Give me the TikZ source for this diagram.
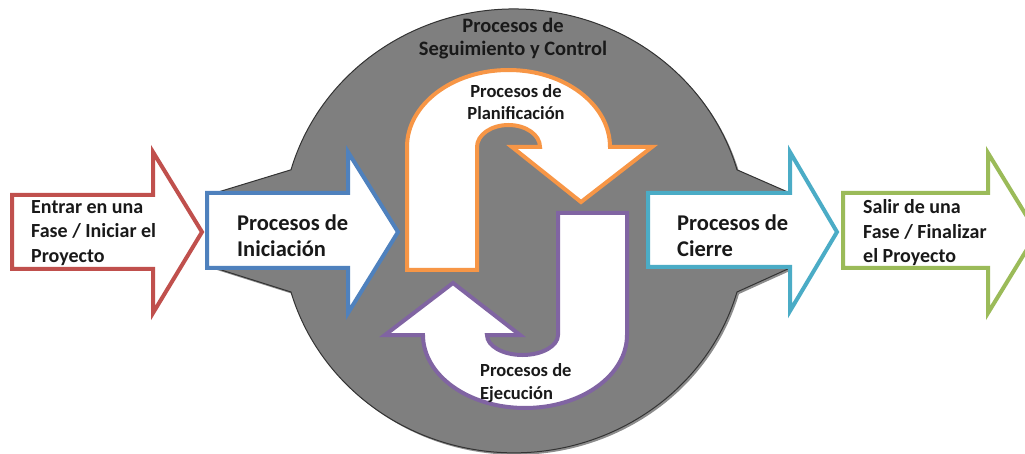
\documentclass[tikz,border=0pt]{standalone}
\usepackage{fontspec}
\setmainfont{Carlito}
\definecolor{rojo}{HTML}{C0504D}
\definecolor{azul}{HTML}{4F81BD}
\definecolor{naranja}{HTML}{F79646}
\definecolor{morado}{HTML}{8064A2}
\definecolor{celeste}{HTML}{4BACC6}
\definecolor{verde}{HTML}{9BBB59}
\definecolor{fondo}{HTML}{7F7F7F}
\tikzset{
  flecha/.style={fill=white, line width=4pt, line join=miter},
  txtgrande/.style={font=\bfseries\fontsize{22.5}{26}\selectfont, align=left, inner sep=0pt, text=black!90},
  txtchico/.style={font=\bfseries\fontsize{20}{24.5}\selectfont, align=left, inner sep=0pt, text=black!90},
  txtcirculo/.style={font=\bfseries\fontsize{20.5}{23}\selectfont, align=center, inner sep=0pt, text=black!90},
  txtinterno/.style={font=\bfseries\fontsize{18.5}{22.5}\selectfont, inner sep=0pt, text=black!90}
}
\begin{document}
\begin{tikzpicture}[x=1pt,y=-1pt]
\useasboundingbox (0,0) rectangle (1025,454);
\clip (0,0) rectangle (1025,454);

% circulo de seguimiento y control
\fill[black!45, shift={(2,2)}] (514,231) ++(196:232 and 222) arc[start angle=196, end angle=344, x radius=232, y radius=222]
  -- (790,193) -- (790,268) -- (737,292) arc[start angle=16, end angle=164, x radius=232, y radius=222]
  -- (215,268) -- (215,193) -- cycle;
\draw[fill=fondo, draw=black!80, line width=1pt] (514,231) ++(196:232 and 222) arc[start angle=196, end angle=344, x radius=232, y radius=222]
  -- (790,193) -- (790,268) -- (737,292) arc[start angle=16, end angle=164, x radius=232, y radius=222]
  -- (215,268) -- (215,193) -- cycle;
\node[txtcirculo] (control) at (513,39) {Procesos de\\Seguimiento y Control};

% flechas rectas
\draw[flecha, draw=rojo] (12,195) -- (153,195) -- (153,152) -- (202,232) -- (153,313) -- (153,269) -- (12,269) -- cycle;
\draw[flecha, draw=azul] (207,193) -- (348,193) -- (348,152) -- (398,232) -- (348,313) -- (348,268) -- (207,268) -- cycle;
\draw[flecha, draw=celeste] (648,193) -- (790,193) -- (790,152) -- (837,232) -- (790,311) -- (790,267) -- (648,267) -- cycle;
\draw[flecha, draw=verde] (843,193) -- (988,193) -- (988,153) -- (1037,233) -- (988,313) -- (988,268) -- (843,268) -- cycle;

% planificacion
\draw[flecha, draw=naranja] (407,270) -- (407,147) arc[start angle=180, end angle=360, x radius=101.5, y radius=77]
  -- (652,147) -- (581,202) -- (512,147) -- (540,147) arc[start angle=0, end angle=-180, x radius=31.5, y radius=22]
  -- (477,270) -- cycle;
% ejecucion
\draw[flecha, draw=morado] (558,213) -- (627,213) -- (627,335) arc[start angle=0, end angle=180, x radius=102, y radius=73]
  -- (385,335) -- (453,283) -- (520,335) -- (487,335) arc[start angle=180, end angle=0, x radius=35.5, y radius=20]
  -- cycle;

\node[txtinterno, align=center] (planificacion) at (516,102) {Procesos de\\Planificación};
\node[txtinterno, align=left, anchor=west] (ejecucion) at (480,383) {Procesos de\\Ejecución};

\node[txtchico, anchor=west] (entrar) at (31,233) {Entrar en una\\Fase / Iniciar el\\Proyecto};
\node[txtgrande, anchor=west] (iniciacion) at (237,236) {Procesos de\\Iniciación};
\node[txtgrande, anchor=west] (cierre) at (677,236) {Procesos de\\Cierre};
\node[txtchico, anchor=west] (salir) at (863,233) {Salir de una\\Fase / Finalizar\\el Proyecto};
\end{tikzpicture}
\end{document}
